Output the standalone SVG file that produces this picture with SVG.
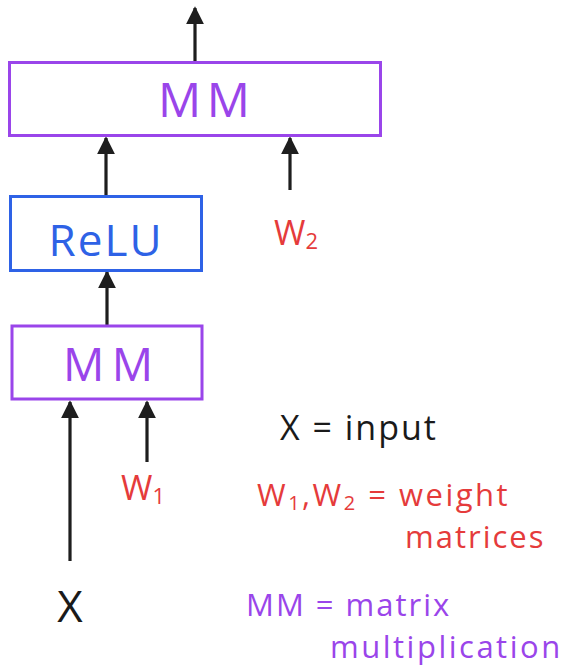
<svg xmlns="http://www.w3.org/2000/svg" width="573" height="668" viewBox="0 0 573 668">
<style>
.box{fill:none;stroke-width:3}
.mm{stroke:#9a45ea}
.relu{stroke:#2e62e6}
.t{font-family:"Open Sans","Liberation Sans",sans-serif}
.purple{fill:#9a45ea}
.blue{fill:#2e62e6}
.red{fill:#e53b3b}
.black{fill:#1a1a1a}
.conn line{stroke:#1e1e1e;stroke-width:3.2}
</style>
<defs>
<marker id="ah" viewBox="0 0 10 10" refX="9" refY="5" markerWidth="5.6" markerHeight="5.6" orient="auto" markerUnits="strokeWidth">
<path d="M0,0 L10,5 L0,10 z" fill="#1e1e1e"/>
</marker>
</defs>
<rect width="573" height="668" fill="#ffffff"/>
<g class="conn">
<line x1="195" y1="62" x2="195" y2="8" marker-end="url(#ah)"/>
<line x1="106" y1="196" x2="106" y2="138" marker-end="url(#ah)"/>
<line x1="290" y1="190" x2="290" y2="138" marker-end="url(#ah)"/>
<line x1="107" y1="325" x2="107" y2="272" marker-end="url(#ah)"/>
<line x1="70" y1="561" x2="70" y2="402" marker-end="url(#ah)"/>
<line x1="147" y1="462" x2="147" y2="402" marker-end="url(#ah)"/>
</g>
<g id="mm2">
<rect class="box mm" x="9.5" y="62.5" width="371" height="73"/>
<text class="t purple" x="158" y="117" font-size="48" textLength="92" lengthAdjust="spacing">MM</text>
</g>
<g id="relu">
<rect class="box relu" x="10.5" y="196.5" width="191" height="74"/>
<text class="t blue" x="106" y="256" font-size="44" text-anchor="middle" letter-spacing="2">ReLU</text>
</g>
<g id="mm1">
<rect class="box mm" x="12" y="326" width="190" height="73"/>
<text class="t purple" x="63" y="381" font-size="46" textLength="90" lengthAdjust="spacing">MM</text>
</g>
<g id="w2">
<text class="t red" x="274" y="245" font-size="34">W<tspan font-size="22" dy="4">2</tspan></text>
</g>
<g id="w1">
<text class="t red" x="121" y="500" font-size="34">W<tspan font-size="22" dy="4">1</tspan></text>
</g>
<g id="x">
<text class="t black" x="70" y="622" font-size="44" text-anchor="middle">X</text>
</g>
<g id="legend">
<text class="t black" x="280" y="440" font-size="34" letter-spacing="2">X = input</text>
<text class="t red" x="257" y="506" font-size="31" letter-spacing="2.5">W<tspan font-size="20" dy="4">1</tspan><tspan dy="-4">,W</tspan><tspan font-size="20" dy="4">2</tspan><tspan dy="-4"> = weight</tspan></text>
<text class="t red" x="405" y="548" font-size="31" letter-spacing="2">matrices</text>
<text class="t purple" x="246" y="616" font-size="31" letter-spacing="2">MM = matrix</text>
<text class="t purple" x="330" y="658" font-size="31" letter-spacing="2.5">multiplication</text>
</g>
</svg>
